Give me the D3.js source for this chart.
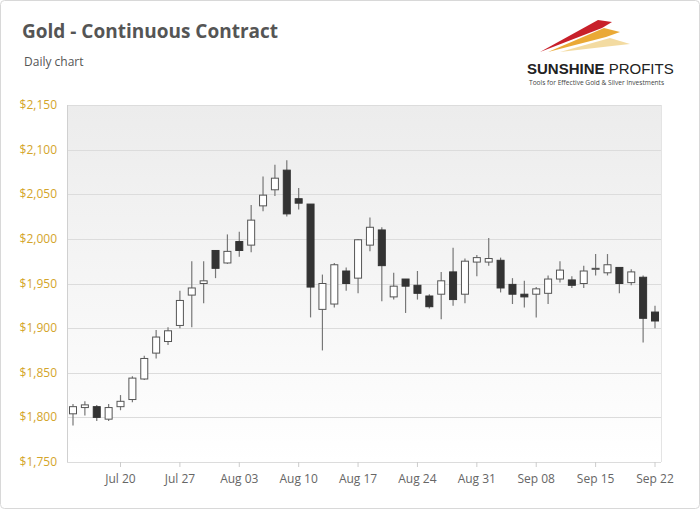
<!DOCTYPE html>
<html><head><meta charset="utf-8">
<script src="https://cdn.jsdelivr.net/npm/d3@7"></script>
<style>body{margin:0;background:#fff;font-family:"Open Sans",sans-serif}</style>
</head><body><div id="chart"></div>
<script>
const dates = ["Jul 14","Jul 15","Jul 16","Jul 17","Jul 20","Jul 21","Jul 22","Jul 23","Jul 24","Jul 27","Jul 28","Jul 29","Jul 30","Jul 31",
  "Aug 03","Aug 04","Aug 05","Aug 06","Aug 07","Aug 10","Aug 11","Aug 12","Aug 13","Aug 14","Aug 17","Aug 18","Aug 19","Aug 20","Aug 21",
  "Aug 24","Aug 25","Aug 26","Aug 27","Aug 28","Aug 31","Sep 01","Sep 02","Sep 03","Sep 04","Sep 08","Sep 09","Sep 10","Sep 11",
  "Sep 14","Sep 15","Sep 16","Sep 17","Sep 18","Sep 21","Sep 22"];
const open  = [1804,1811,1812,1798,1812,1820,1843,1872,1885,1903,1937,1950,1987,1973,1997,1993,2037,2055,2077,2045,2039,1921,1927,1964,1956,1993,2010,1935,1955,1948,1936,1938,1963,1938,1974,1974,1976,1949,1938,1938,1939,1955,1954,1950,1966,1962,1968,1951,1957,1918];
const close = [1812,1814,1800,1811,1818,1844,1866,1890,1897,1931,1945,1953,1967,1986,1987,2021,2049,2068,2028,2040,1946,1950,1971,1950,1999,2013,1970,1947,1947,1939,1924,1953,1932,1975,1979,1978,1945,1938,1935,1944,1955,1965,1948,1964,1967,1971,1950,1963,1911,1908];
const high  = [1815,1818,1814,1815,1825,1846,1869,1898,1901,1942,1975,1975,1987,2005,2008,2038,2070,2083,2088,2057,2039,1960,1973,1968,2000,2024,2013,1962,1955,1964,1938,1963,1990,1978,1982,2001,1979,1956,1953,1946,1959,1975,1958,1970,1983,1983,1968,1966,1959,1925];
const low   = [1791,1802,1796,1796,1808,1817,1842,1866,1881,1900,1901,1928,1956,1972,1980,1985,2031,2048,2025,2033,1912,1875,1923,1942,1939,1986,1930,1932,1917,1932,1922,1910,1925,1928,1958,1970,1940,1927,1923,1912,1927,1951,1945,1945,1959,1959,1939,1948,1884,1900];
const xTicks = ["Jul 20","Jul 27","Aug 03","Aug 10","Aug 17","Aug 24","Aug 31","Sep 08","Sep 15","Sep 22"];
const yTicks = [1750,1800,1850,1900,1950,2000,2050,2100,2150];

const W = 700, H = 509;
const svg = d3.select("#chart").append("svg").attr("width", W).attr("height", H);
const defs = svg.append("defs");
const grad = defs.append("linearGradient").attr("id","bg").attr("x1",0).attr("x2",0).attr("y1",0).attr("y2",1);
grad.append("stop").attr("offset","0%").attr("stop-color","#ececec");
grad.append("stop").attr("offset","100%").attr("stop-color","#ffffff");

svg.append("rect").attr("x",0.5).attr("y",0.5).attr("width",W-1).attr("height",H-1).attr("rx",4)
  .attr("fill","#fff").attr("stroke","#d8d8d8");

const plot = {left: 67, right: 661, top: 105, bottom: 462};
const y = d3.scaleLinear().domain([1750,2150]).range([plot.bottom, plot.top]);
const x = d3.scalePoint().domain(dates).range([73, 655]);

svg.append("rect").attr("x",plot.left).attr("y",plot.top).attr("width",plot.right-plot.left)
  .attr("height",plot.bottom-plot.top).attr("fill","url(#bg)");

svg.append("g").selectAll("line").data(yTicks).enter().append("line")
  .attr("x1",plot.left).attr("x2",plot.right).attr("y1",d=>Math.round(y(d))+0.5).attr("y2",d=>Math.round(y(d))+0.5)
  .attr("stroke","#dcdcdc");
svg.append("line").attr("x1",plot.left+0.5).attr("x2",plot.left+0.5).attr("y1",plot.top).attr("y2",plot.bottom).attr("stroke","#d0d0d0");
svg.append("line").attr("x1",plot.right+0.5).attr("x2",plot.right+0.5).attr("y1",plot.top).attr("y2",plot.bottom).attr("stroke","#e4e4e4");

svg.append("g").selectAll("text").data(yTicks).enter().append("text")
  .attr("x",57).attr("y",d=>y(d)+4).attr("text-anchor","end")
  .attr("font-size","12px").attr("fill","#d4a52a").text(d3.format("$,")) ;

const xg = svg.append("g");
xg.selectAll("line").data(xTicks).enter().append("line")
  .attr("x1",d=>x(d)).attr("x2",d=>x(d)).attr("y1",plot.bottom).attr("y2",plot.bottom+5).attr("stroke","#ccc");
xg.selectAll("text").data(xTicks).enter().append("text")
  .attr("x",d=>x(d)).attr("y",483).attr("text-anchor","middle")
  .attr("font-size","12px").attr("fill","#666").text(d=>d);

const candles = svg.append("g").selectAll("g").data(dates.map((d,i)=>({d,o:open[i],c:close[i],h:high[i],l:low[i]}))).enter().append("g");
candles.append("line").attr("x1",d=>x(d.d)).attr("x2",d=>x(d.d)).attr("y1",d=>y(d.h)).attr("y2",d=>y(d.l))
  .attr("stroke","#777").attr("stroke-width",1.2);
candles.append("rect").attr("x",d=>x(d.d)-3.5).attr("width",7)
  .attr("y",d=>y(Math.max(d.o,d.c))).attr("height",d=>Math.max(1,Math.abs(y(d.o)-y(d.c))))
  .attr("fill",d=>d.c>=d.o?"#fff":"#333").attr("stroke",d=>d.c>=d.o?"#555":"#333").attr("stroke-width",1);

svg.append("text").attr("x",22).attr("y",38).attr("font-size","19px").attr("font-weight","bold").attr("fill","#555").text("Gold - Continuous Contract");
svg.append("text").attr("x",24).attr("y",66).attr("font-size","12px").attr("fill","#555").text("Daily chart");

// logo
const logo = svg.append("g");
logo.append("path").attr("d","M540,52 L598,20 L612,22 L602,28 Z").attr("fill","#c8202a");
logo.append("path").attr("d","M548,52 L604,28 L620,32 L606,37 Z").attr("fill","#e8a020").attr("opacity",0.9);
logo.append("path").attr("d","M560,52 L610,38 L630,44 L612,46 Z").attr("fill","#f0d28a").attr("opacity",0.8);
logo.append("text").attr("x",527).attr("y",74).attr("font-family","'Liberation Sans',Arial").attr("font-size","15px").attr("font-weight","bold").attr("fill","#222").text("SUNSHINE")
  .append("tspan").attr("font-weight","normal").text(" PROFITS");
logo.append("text").attr("x",529).attr("y",85).attr("font-size","6.6px").attr("fill","#444").text("Tools for Effective Gold & Silver Investments");
</script></body></html>
